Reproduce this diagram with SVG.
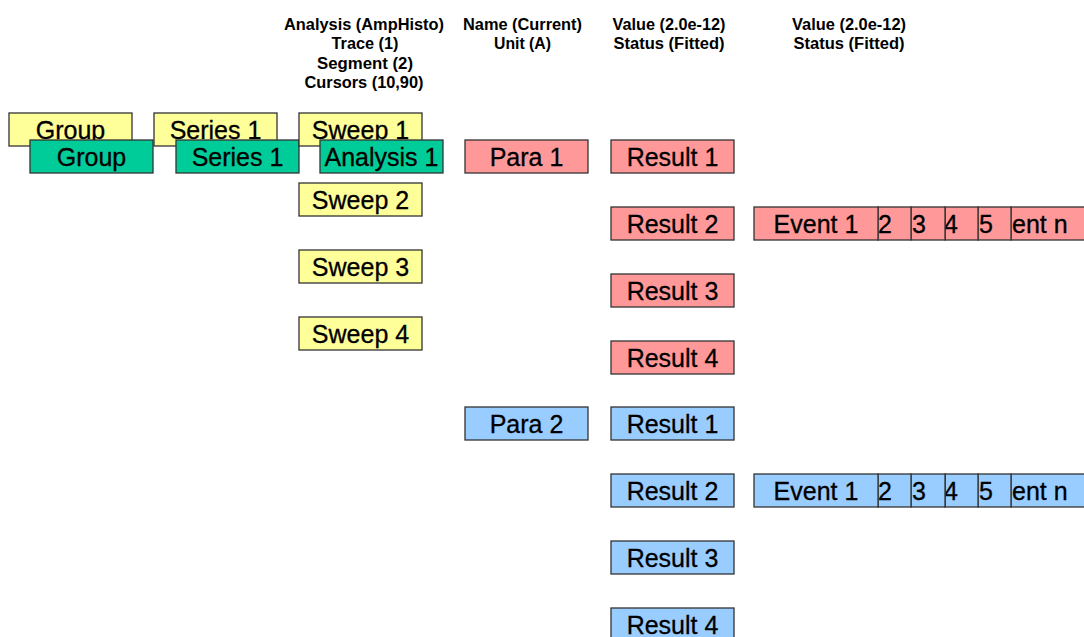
<svg xmlns="http://www.w3.org/2000/svg" width="1084" height="637" viewBox="0 0 1084 637">
<style>
.b{stroke:#333;stroke-width:1.3}
.y{fill:#FFFF99}.g{fill:#00CC99}.r{fill:#FF9999}.u{fill:#99CCFF}
.t{font-family:"Liberation Sans",Arial,sans-serif;font-size:25px;fill:#000;stroke:#000;stroke-width:0.3;text-anchor:middle}
.s{font-family:"Liberation Sans",Arial,sans-serif;font-size:25px;fill:#000;stroke:#000;stroke-width:0.3}
.h{font-family:"Liberation Sans",Arial,sans-serif;font-size:16px;font-weight:bold;fill:#000;text-anchor:middle}
</style>
<rect width="1084" height="637" fill="#fff"/>
<g id="headers">
<text class="h" x="364" y="29.5" textLength="160" lengthAdjust="spacingAndGlyphs">Analysis (AmpHisto)</text>
<text class="h" x="365" y="49" textLength="67" lengthAdjust="spacingAndGlyphs">Trace (1)</text>
<text class="h" x="365" y="68.5" textLength="96" lengthAdjust="spacingAndGlyphs">Segment (2)</text>
<text class="h" x="364" y="88" textLength="119" lengthAdjust="spacingAndGlyphs">Cursors (10,90)</text>
<text class="h" x="522.5" y="29.5" textLength="119" lengthAdjust="spacingAndGlyphs">Name (Current)</text>
<text class="h" x="522.5" y="49" textLength="57" lengthAdjust="spacingAndGlyphs">Unit (A)</text>
<text class="h" x="669" y="29.5" textLength="113" lengthAdjust="spacingAndGlyphs">Value (2.0e-12)</text>
<text class="h" x="669" y="49" textLength="111" lengthAdjust="spacingAndGlyphs">Status (Fitted)</text>
<text class="h" x="849" y="29.5" textLength="114" lengthAdjust="spacingAndGlyphs">Value (2.0e-12)</text>
<text class="h" x="849" y="49" textLength="111" lengthAdjust="spacingAndGlyphs">Status (Fitted)</text>
</g>
<g id="connectors"/>
<g id="group-y"><rect class="b y" x="9" y="113" width="123" height="33"/><text class="t" x="70.5" y="138.5">Group</text></g>
<g id="group-g"><rect class="b g" x="30" y="140" width="123" height="33"/><text class="t" x="91.5" y="165.5">Group</text></g>
<g id="series-y"><rect class="b y" x="154" y="113" width="123" height="33"/><text class="t" x="215.5" y="138.5">Series 1</text></g>
<g id="series-g"><rect class="b g" x="176" y="140" width="123" height="33"/><text class="t" x="237.5" y="165.5">Series 1</text></g>
<g id="sweep1"><rect class="b y" x="299" y="113" width="123" height="33"/><text class="t" x="360.5" y="138.5">Sweep 1</text></g>
<g id="analysis1"><rect class="b g" x="320" y="140" width="123" height="33"/><text class="t" x="381.5" y="165.5">Analysis 1</text></g>
<g id="sweep2"><rect class="b y" x="299" y="183" width="123" height="33"/><text class="t" x="360.5" y="208.5">Sweep 2</text></g>
<g id="sweep3"><rect class="b y" x="299" y="250" width="123" height="33"/><text class="t" x="360.5" y="275.5">Sweep 3</text></g>
<g id="sweep4"><rect class="b y" x="299" y="317" width="123" height="33"/><text class="t" x="360.5" y="342.5">Sweep 4</text></g>
<g id="para1"><rect class="b r" x="465" y="140" width="123" height="33"/><text class="t" x="526.5" y="165.5">Para 1</text></g>
<g id="r1a"><rect class="b r" x="611" y="140" width="123" height="33"/><text class="t" x="672.5" y="165.5">Result 1</text></g>
<g id="r2a"><rect class="b r" x="611" y="207" width="123" height="33"/><text class="t" x="672.5" y="232.5">Result 2</text></g>
<g id="r3a"><rect class="b r" x="611" y="274" width="123" height="33"/><text class="t" x="672.5" y="299.5">Result 3</text></g>
<g id="r4a"><rect class="b r" x="611" y="341" width="123" height="33"/><text class="t" x="672.5" y="366.5">Result 4</text></g>
<g id="events-a">
<rect class="b r" x="1011" y="207" width="80" height="33"/><text class="s" x="1012" y="232.5">ent n</text>
<rect class="b r" x="978" y="207" width="33" height="33"/><text class="s" x="979" y="232.5">5</text>
<rect class="b r" x="945" y="207" width="33" height="33"/><text class="s" x="944" y="232.5">4</text>
<line class="b" x1="945" y1="207" x2="945" y2="240"/>
<rect class="b r" x="911" y="207" width="34" height="33"/><text class="s" x="912" y="232.5">3</text>
<rect class="b r" x="878" y="207" width="33" height="33"/><text class="s" x="878" y="232.5">2</text>
<rect class="b r" x="754" y="207" width="124" height="33"/><text class="t" x="816" y="232.5">Event 1</text>
</g>
<g id="para2"><rect class="b u" x="465" y="407" width="123" height="33"/><text class="t" x="526.5" y="432.5">Para 2</text></g>
<g id="r1b"><rect class="b u" x="611" y="407" width="123" height="33"/><text class="t" x="672.5" y="432.5">Result 1</text></g>
<g id="r2b"><rect class="b u" x="611" y="474" width="123" height="33"/><text class="t" x="672.5" y="499.5">Result 2</text></g>
<g id="r3b"><rect class="b u" x="611" y="541" width="123" height="33"/><text class="t" x="672.5" y="566.5">Result 3</text></g>
<g id="r4b"><rect class="b u" x="611" y="608" width="123" height="33"/><text class="t" x="672.5" y="633.5">Result 4</text></g>
<g id="events-b">
<rect class="b u" x="1011" y="474" width="80" height="33"/><text class="s" x="1012" y="499.5">ent n</text>
<rect class="b u" x="978" y="474" width="33" height="33"/><text class="s" x="979" y="499.5">5</text>
<rect class="b u" x="945" y="474" width="33" height="33"/><text class="s" x="944" y="499.5">4</text>
<line class="b" x1="945" y1="474" x2="945" y2="507"/>
<rect class="b u" x="911" y="474" width="34" height="33"/><text class="s" x="912" y="499.5">3</text>
<rect class="b u" x="878" y="474" width="33" height="33"/><text class="s" x="878" y="499.5">2</text>
<rect class="b u" x="754" y="474" width="124" height="33"/><text class="t" x="816" y="499.5">Event 1</text>
</g>
</svg>
